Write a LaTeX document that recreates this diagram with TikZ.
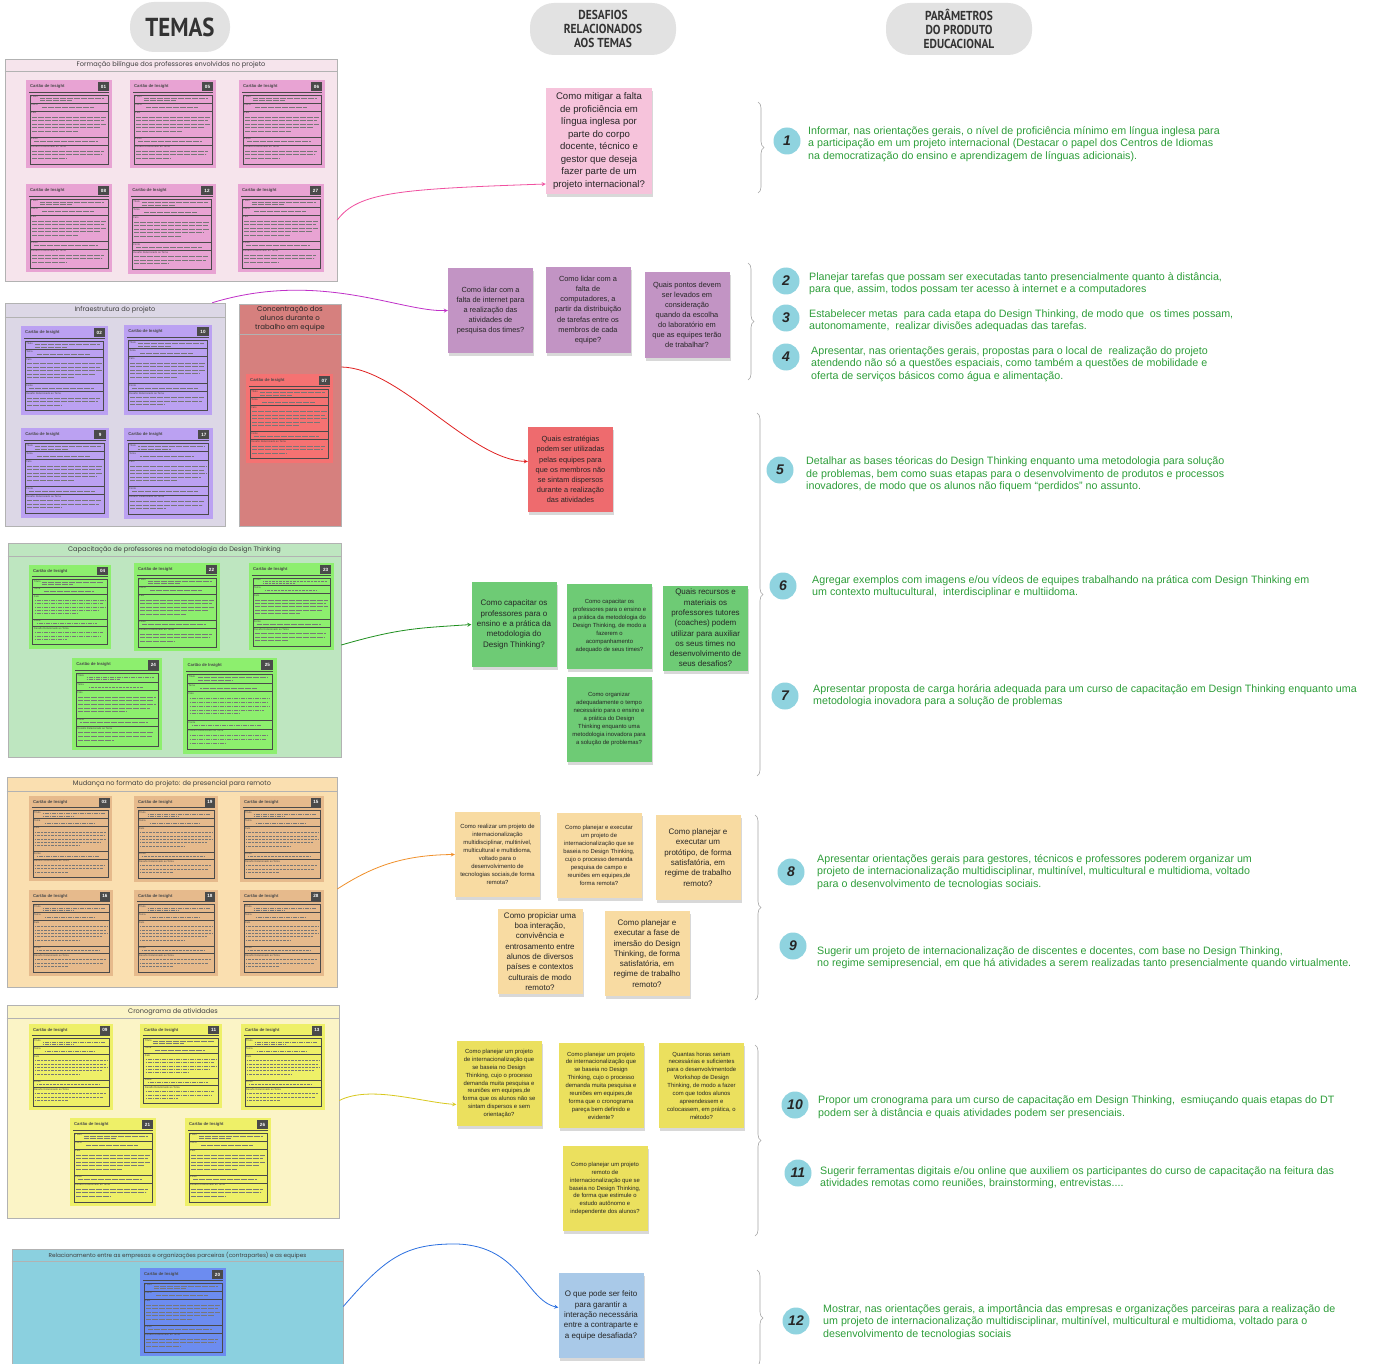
\documentclass[tikz,border=0pt]{standalone}
\usepackage{fontspec}
\setmainfont{Liberation Sans}
\newfontfamily\hdfont[FakeStretch=0.88]{PT Sans}
\newfontfamily\ttlfont{Poppins}
\usepackage{xcolor}
\usepackage{tikz}
\usetikzlibrary{shapes,arrows,positioning,calc,decorations.pathreplacing,shadows}

\definecolor{headGray}{HTML}{E2E2E2}
\definecolor{panelPink}{HTML}{F6E4EC}
\definecolor{cardPink}{HTML}{E8A3D3}
\definecolor{notePink}{HTML}{F6C3DB}
\definecolor{panelInfra}{HTML}{DCD7E6}
\definecolor{cardPurple}{HTML}{BBA1F2}
\definecolor{notePurple}{HTML}{C294C4}
\definecolor{panelRose}{HTML}{D6807E}
\definecolor{cardRed}{HTML}{F57272}
\definecolor{noteRed}{HTML}{EE6B6E}
\definecolor{panelGreen}{HTML}{BEE6C0}
\definecolor{cardGreen}{HTML}{8DEF6E}
\definecolor{noteGreen}{HTML}{6ECB75}
\definecolor{panelOrange}{HTML}{FADFB0}
\definecolor{cardOrange}{HTML}{E6BA8C}
\definecolor{noteOrange}{HTML}{F8DBA2}
\definecolor{panelYellow}{HTML}{FBF4C6}
\definecolor{cardYellow}{HTML}{EEF068}
\definecolor{noteYellow}{HTML}{EBE05E}
\definecolor{panelBlue}{HTML}{8BD0DF}
\definecolor{cardBlue}{HTML}{6C8CF0}
\definecolor{noteBlue}{HTML}{A9C9E8}
\definecolor{numCircle}{HTML}{8FD3DF}
\definecolor{paramGreen}{HTML}{2E9E3A}
\definecolor{linePink}{HTML}{F050A0}
\definecolor{lineMagenta}{HTML}{C030C8}
\definecolor{lineRed}{HTML}{E02020}
\definecolor{lineGreen}{HTML}{1E8F1E}
\definecolor{lineOrange}{HTML}{F0902A}
\definecolor{lineYellow}{HTML}{D8C81E}
\definecolor{lineBlue}{HTML}{2A6FE0}
\definecolor{cardInk}{HTML}{4A4A4A}

\tikzset{
  cabec/.style={fill=headGray, rounded corners=24pt, align=center, text=black!80,
    font=\hdfont\bfseries\fontsize{13}{13.8}\selectfont},
  painel/.style={draw=gray!60, line width=0.6pt, inner sep=0pt},
  painelline/.style={draw=gray!60, line width=0.6pt},
  ptitulo/.style={font=\ttlfont\fontsize{6.6}{8.6}\selectfont, text=black!75, inner sep=0pt, align=center},
  cardhead/.style={font=\bfseries\fontsize{4.2}{5}\selectfont, text=cardInk, inner sep=0pt},
  cardnum/.style={font=\bfseries\fontsize{4.6}{5}\selectfont, text=white, inner sep=0pt},
  cardlab/.style={font=\fontsize{2.6}{3}\selectfont, text=cardInk, inner sep=0pt, anchor=west},
  scrib/.style={draw=cardInk!75, line width=0.25pt, dash pattern=on 1.6pt off 0.5pt on 3pt off 0.6pt on 0.8pt off 0.5pt},
  qnote/.style={align=center, inner sep=1pt, text=black!85, minimum width=85pt, minimum height=85pt,
    drop shadow={shadow xshift=1pt, shadow yshift=-3pt, opacity=0.3}},
  qbig/.style={font=\fontsize{9.6}{12.5}\selectfont},
  qmid/.style={font=\fontsize{8}{10.3}\selectfont},
  qlow/.style={font=\fontsize{7.4}{10.1}\selectfont},
  qsmall/.style={font=\fontsize{5.9}{7.9}\selectfont},
  conn/.style={->, line width=0.8pt},
  chave/.style={decorate, decoration={brace, amplitude=6pt}, draw=gray!70, line width=0.6pt},
  numero/.style={circle, fill=numCircle, minimum size=27pt, inner sep=0pt, text=black!85,
    font=\bfseries\itshape\fontsize{14}{14}\selectfont},
  param/.style={anchor=west, align=left, inner sep=0pt, text=paramGreen,
    font=\fontsize{10.7}{12.5}\selectfont}
}

% one insight card: x, y, number, colour, scale
\newcommand{\insightcard}[5]{%
  \begin{scope}[shift={(#1,#2)}, scale=#5]
    \fill[#4] (0,0) rectangle (86,88);
    \node[cardhead, anchor=west] at (4,6.5) {Cartão de Insight};
    \fill[cardInk] (72,2) rectangle (83,11);
    \node[cardnum] at (77.5,6.5) {#3};
    \draw[cardInk, line width=0.7pt] (3,12) -- (83,12);
    \draw[cardInk, line width=0.7pt] (4,15) rectangle (82,84);
    \foreach \yy in {23,31,57,65} \draw[cardInk, line width=0.6pt] (4,\yy) -- (82,\yy);
    \node[cardlab] at (5,17) {Título};
    \node[cardlab] at (5,25) {Tema};
    \node[cardlab] at (5,33) {Fato};
    \node[cardlab] at (5,59) {Fonte};
    \node[cardlab] at (5,67) {Desafio Relacionado ao Tema};
    \draw[scrib] (14,18) -- (78,18) (14,20.5) -- (46,20.5);
    \draw[scrib] (16,27.5) -- (68,27.5);
    \foreach \yy/\ee in {37/80,40.5/78,44/80,47.5/74,51/52} \draw[scrib] (6,\yy) -- (\ee,\yy);
    \draw[scrib] (8,61.5) -- (72,61.5);
    \foreach \yy/\ee in {71/78,74.5/76,78/40} \draw[scrib] (6,\yy) -- (\ee,\yy);
  \end{scope}}

\begin{document}
\begin{tikzpicture}[x=1pt, y=-1pt, >=stealth]
    \useasboundingbox (0,0) rectangle (1373,1364);
    \fill[white] (0,0) rectangle (1373,1364);

    % column headers
    \node[cabec, minimum width=100pt, minimum height=50pt, font=\hdfont\bfseries\fontsize{26}{26}\selectfont] (temas) at (180,27) {TEMAS};
    \node[cabec, minimum width=146pt, minimum height=52pt] (desafios) at (603,29) {DESAFIOS\\RELACIONADOS\\AOS TEMAS};
    \node[cabec, minimum width=146pt, minimum height=52pt] (parametros) at (959,29) {PARÂMETROS\\DO PRODUTO\\EDUCACIONAL};

    % Theme 1 - bilingual training (pink)
    \node[painel, fill=panelPink, minimum width=332pt, minimum height=222pt] (formacao) at (171,170) {};
    \draw[painelline] ([yshift=-13pt]formacao.north west) -- ([yshift=-13pt]formacao.north east);
    \node[ptitulo] at ([yshift=-6.5pt]formacao.north) {Formação bilíngue dos professores envolvidos no projeto};
    \insightcard{26}{80}{01}{cardPink}{1}
    \insightcard{130}{80}{05}{cardPink}{1}
    \insightcard{239}{80}{06}{cardPink}{1}
    \insightcard{26}{184}{08}{cardPink}{1}
    \insightcard{128}{184}{12}{cardPink}{1.02}
    \insightcard{238}{184}{27}{cardPink}{1}

    % Theme 2 - infrastructure (purple)
    \node[painel, fill=panelInfra, minimum width=220pt, minimum height=223pt] (infra) at (115,414.5) {};
    \draw[painelline] ([yshift=-15pt]infra.north west) -- ([yshift=-15pt]infra.north east);
    \node[ptitulo] at ([yshift=-7.5pt]infra.north) {Infraestrutura do projeto};
    \insightcard{21}{326}{02}{cardPurple}{1.01}
    \insightcard{124}{325}{10}{cardPurple}{1.02}
    \insightcard{21}{428}{9}{cardPurple}{1.02}
    \insightcard{124}{428}{17}{cardPurple}{1.03}

    % Theme 3 - concentration (rose)
    \node[painel, fill=panelRose, minimum width=102pt, minimum height=222pt] (concentr) at (290,415) {};
    \draw[painelline] ([yshift=-31pt]concentr.north west) -- ([yshift=-31pt]concentr.north east);
    \node[ptitulo, text=black!85, font=\ttlfont\fontsize{7}{9}\selectfont] at ([yshift=-15.5pt]concentr.north) {Concentração dos\\alunos durante o\\trabalho em equipe};
    \insightcard{246}{374}{07}{cardRed}{1.01}

    % Theme 4 - Design Thinking training (green)
    \node[painel, fill=panelGreen, minimum width=333pt, minimum height=214pt] (capacit) at (174.5,650) {};
    \draw[painelline] ([yshift=-14pt]capacit.north west) -- ([yshift=-14pt]capacit.north east);
    \node[ptitulo] at ([yshift=-7pt]capacit.north) {Capacitação de professores na metodologia do Design Thinking};
    \insightcard{29}{565}{04}{cardGreen}{0.95}
    \insightcard{134}{563}{22}{cardGreen}{1}
    \insightcard{249}{563}{23}{cardGreen}{0.99}
    \insightcard{72}{658}{24}{cardGreen}{1.05}
    \insightcard{183}{658}{25}{cardGreen}{1.09}

    % Theme 5 - remote format (orange)
    \node[painel, fill=panelOrange, minimum width=330pt, minimum height=210pt] (mudanca) at (172,882) {};
    \draw[painelline] ([yshift=-15pt]mudanca.north west) -- ([yshift=-15pt]mudanca.north east);
    \node[ptitulo] at ([yshift=-7.5pt]mudanca.north) {Mudança no formato do projeto: de presencial para remoto};
    \insightcard{29}{796}{03}{cardOrange}{0.97}
    \insightcard{134}{796}{19}{cardOrange}{0.98}
    \insightcard{240}{796}{15}{cardOrange}{0.98}
    \insightcard{29}{890}{16}{cardOrange}{0.98}
    \insightcard{134}{890}{18}{cardOrange}{0.98}
    \insightcard{240}{890}{28}{cardOrange}{0.98}

    % Theme 6 - schedule (yellow)
    \node[painel, fill=panelYellow, minimum width=332pt, minimum height=213pt] (crono) at (173,1111.5) {};
    \draw[painelline] ([yshift=-14pt]crono.north west) -- ([yshift=-14pt]crono.north east);
    \node[ptitulo] at ([yshift=-7pt]crono.north) {Cronograma de atividades};
    \insightcard{29}{1024}{09}{cardYellow}{0.98}
    \insightcard{140}{1024}{11}{cardYellow}{0.95}
    \insightcard{241}{1024}{13}{cardYellow}{0.98}
    \insightcard{70}{1118}{21}{cardYellow}{1}
    \insightcard{185}{1118}{26}{cardYellow}{1}

    % Theme 7 - partner organisations (blue)
    \node[painel, fill=panelBlue, minimum width=331pt, minimum height=115pt] (relac) at (177.5,1306.5) {};
    \draw[painelline] ([yshift=-13pt]relac.north west) -- ([yshift=-13pt]relac.north east);
    \node[ptitulo, font=\ttlfont\fontsize{5.7}{7}\selectfont] at ([yshift=-6.5pt]relac.north) {Relacionamento entre as empresas e organizações parceiras (contrapartes) e as equipes};
    \insightcard{140}{1268}{20}{cardBlue}{1}

    % challenge notes
    \node[qnote, qbig, fill=notePink, minimum width=106pt, minimum height=106pt] (q1) at (599,141) {Como mitigar a falta\\de proficiência em\\língua inglesa por\\parte do corpo\\docente, técnico e\\gestor que deseja\\fazer parte de um\\projeto internacional?};

    \node[qnote, qlow, fill=notePurple] (q2a) at (490.5,310.5) {Como lidar com a\\falta de internet para\\a realização das\\atividades de\\pesquisa dos times?};
    \node[qnote, qlow, fill=notePurple] (q2b) at (588,310) {Como lidar com a\\falta de\\computadores, a\\partir da distribuição\\de tarefas entre os\\membros de cada\\equipe?};
    \node[qnote, qlow, fill=notePurple] (q2c) at (687,315) {Quais pontos devem\\ser levados em\\consideração\\quando da escolha\\do laboratório em\\que as equipes terão\\de trabalhar?};

    \node[qnote, qlow, fill=noteRed] (q3) at (570.5,469.5) {Quais estratégias\\podem ser utilizadas\\pelas equipes para\\que os membros não\\se sintam dispersos\\durante a realização\\das atividades};

    \node[qnote, qmid, fill=noteGreen] (q4a) at (514,624.5) {Como capacitar os\\professores para o\\ensino e a prática da\\metodologia do\\Design Thinking?};
    \node[qnote, qsmall, fill=noteGreen] (q4b) at (609.5,626) {Como capacitar os\\professores para o ensino e\\a prática da metodologia do\\Design Thinking, de modo a\\fazerem o\\acompanhamento\\adequado de seus times?};
    \node[qnote, qmid, fill=noteGreen] (q4c) at (705.5,628) {Quais recursos e\\materiais os\\professores tutores\\(coaches) podem\\utilizar para auxiliar\\os seus times no\\desenvolvimento de\\seus desafios?};
    \node[qnote, qsmall, fill=noteGreen] (q4d) at (609,719) {Como organizar\\adequadamente o tempo\\necessário para o ensino e\\a prática do Design\\Thinking enquanto uma\\metodologia inovadora para\\a solução de problemas?};

    \node[qnote, qsmall, fill=noteOrange] (q5a) at (497.5,854.5) {Como realizar um projeto de\\internacionalização\\multidisciplinar, multinível,\\multicultural e multidioma,\\voltado para o\\desenvolvimento de\\tecnologias sociais,de forma\\remota?};
    \node[qnote, qsmall, fill=noteOrange] (q5b) at (599,855.5) {Como planejar e executar\\um projeto de\\internacionalização que se\\baseia no Design Thinking,\\cujo o processo demanda\\pesquisa de campo e\\reuniões em equipes,de\\forma remota?};
    \node[qnote, qmid, fill=noteOrange] (q5c) at (698,857.5) {Como planejar e\\executar um\\protótipo, de forma\\satisfatória, em\\regime de trabalho\\remoto?};
    \node[qnote, qmid, fill=noteOrange] (q5d) at (540,951.5) {Como propiciar uma\\boa interação,\\convivência e\\entrosamento entre\\alunos de diversos\\países e contextos\\culturais de modo\\remoto?};
    \node[qnote, qmid, fill=noteOrange] (q5e) at (647,953.5) {Como planejar e\\executar a fase de\\imersão do Design\\Thinking, de forma\\satisfatória, em\\regime de trabalho\\remoto?};

    \node[qnote, qsmall, fill=noteYellow] (q6a) at (499,1083.5) {Como planejar um projeto\\de internacionalização que\\se baseia no Design\\Thinking, cujo o processo\\demanda muita pesquisa e\\reuniões em equipes,de\\forma que os alunos não se\\sintam dispersos e sem\\orientação?};
    \node[qnote, qsmall, fill=noteYellow] (q6b) at (601,1085.5) {Como planejar um projeto\\de internacionalização que\\se baseia no Design\\Thinking, cujo o processo\\demanda muita pesquisa e\\reuniões em equipes,de\\forma que o cronograma\\pareça bem definido e\\evidente?};
    \node[qnote, qsmall, fill=noteYellow] (q6c) at (701.5,1085.5) {Quantas horas seriam\\necessárias e suficientes\\para o desenvolvimentode\\Workshop de Design\\Thinking, de modo a fazer\\com que todos alunos\\apreendessem e\\colocassem, em prática, o\\método?};
    \node[qnote, qsmall, fill=noteYellow] (q6d) at (605,1188.5) {Como planejar um projeto\\remoto de\\internacionalização que se\\baseia no Design Thinking,\\de forma que estimule o\\estudo autônomo e\\independente dos alunos?};

    \node[qnote, qmid, fill=noteBlue] (q7) at (601,1315.5) {O que pode ser feito\\para garantir a\\interação necessária\\entre a contraparte e\\a equipe desafiada?};

    % theme -> challenge connectors
    \draw[conn, linePink] ([yshift=-50pt]formacao.east) .. controls (358,192) and (400,189) .. ([yshift=-43pt]q1.west);
    \draw[conn, lineMagenta] ([xshift=-13pt]infra.north east) .. controls (320,270) and (400,312) .. (q2a.west);
    \draw[conn, lineRed] ([yshift=48pt]concentr.east) .. controls (400,368) and (470,460) .. ([yshift=8pt]q3.west);
    \draw[conn, lineGreen] ([yshift=5pt]capacit.east) .. controls (400,628) and (420,628) .. (q4a.west);
    \draw[conn, lineOrange] ([yshift=-7pt]mudanca.east) .. controls (370,868) and (400,855) .. (q5a.west);
    \draw[conn, lineYellow] ([yshift=11pt]crono.east) .. controls (370,1085) and (420,1102) .. ([yshift=-21pt]q6a.west);
    \draw[conn, lineBlue] (relac.east) .. controls (385,1258) and (405,1245) .. (450,1244)
        .. controls (520,1242) and (525,1300) .. ([yshift=8pt]q7.west);

    % braces grouping the parameters
    \draw[chave] (758,102) -- (758,193);
    \draw[chave] (748,263) -- (748,380);
    \draw[chave] (757,413) -- (757,776);
    \draw[chave] (755,815) -- (755,1000);
    \draw[chave] (755,1045) -- (755,1236);
    \draw[chave] (757,1270) -- (757,1366);

    % numbered parameters
    \node[numero] (n1) at (787,141) {1};
    \node[numero] (n2) at (786,281) {2};
    \node[numero] (n3) at (786,318) {3};
    \node[numero] (n4) at (786,357) {4};
    \node[numero] (n5) at (780,470) {5};
    \node[numero] (n6) at (783,586) {6};
    \node[numero] (n7) at (785,696) {7};
    \node[numero] (n8) at (791,872) {8};
    \node[numero] (n9) at (793,946) {9};
    \node[numero] (n10) at (795,1105) {10};
    \node[numero] (n11) at (798,1173) {11};
    \node[numero] (n12) at (796,1321) {12};

    \node[param] (t1) at (808,144) {Informar, nas orientações gerais, o nível de proficiência mínimo em língua inglesa para\\a participação em um projeto internacional (Destacar o papel dos Centros de Idiomas\\na democratização do ensino e aprendizagem de línguas adicionais).};
    \node[param] (t2) at (809,283.5) {Planejar tarefas que possam ser executadas tanto presencialmente quanto à distância,\\para que, assim, todos possam ter acesso à internet e a computadores};
    \node[param] (t3) at (809,320.5) {Estabelecer metas \ para cada etapa do Design Thinking, de modo que \ os times possam,\\autonomamente, \ realizar divisões adequadas das tarefas.};
    \node[param] (t4) at (811,364) {Apresentar, nas orientações gerais, propostas para o local de \ realização do projeto\\atendendo não só a questões espaciais, como também a questões de mobilidade e\\oferta de serviços básicos como água e alimentação.};
    \node[param] (t5) at (806,474.5) {Detalhar as bases téoricas do Design Thinking enquanto uma metodologia para solução\\de problemas, bem como suas etapas para o desenvolvimento de produtos e processos\\inovadores, de modo que os alunos não fiquem ``perdidos'' no assunto.};
    \node[param] (t6) at (812,586.5) {Agregar exemplos com imagens e/ou vídeos de equipes trabalhando na prática com Design Thinking em\\um contexto multucultural, \ interdisciplinar e multiidoma.};
    \node[param] (t7) at (813,695.5) {Apresentar proposta de carga horária adequada para um curso de capacitação em Design Thinking enquanto uma\\metodologia inovadora para a solução de problemas};
    \node[param] (t8) at (817,872) {Apresentar orientações gerais para gestores, técnicos e professores poderem organizar um\\projeto de internacionalização multidisciplinar, multinível, multicultural e multidioma, voltado\\para o desenvolvimento de tecnologias sociais.};
    \node[param] (t9) at (817,957.5) {Sugerir um projeto de internacionalização de discentes e docentes, com base no Design Thinking,\\no regime semipresencial, em que há atividades a serem realizadas tanto presencialmente quando virtualmente.};
    \node[param] (t10) at (818,1107) {Propor um cronograma para um curso de capacitação em Design Thinking, \ esmiuçando quais etapas do DT\\podem ser à distância e quais atividades podem ser presenciais.};
    \node[param] (t11) at (820,1177.5) {Sugerir ferramentas digitais e/ou online que auxiliem os participantes do curso de capacitação na feitura das\\atividades remotas como reuniões, brainstorming, entrevistas....};
    \node[param] (t12) at (823,1322) {Mostrar, nas orientações gerais, a importância das empresas e organizações parceiras para a realização de\\um projeto de internacionalização multidisciplinar, multinível, multicultural e multidioma, voltado para o\\desenvolvimento de tecnologias sociais};
\end{tikzpicture}
\end{document}
